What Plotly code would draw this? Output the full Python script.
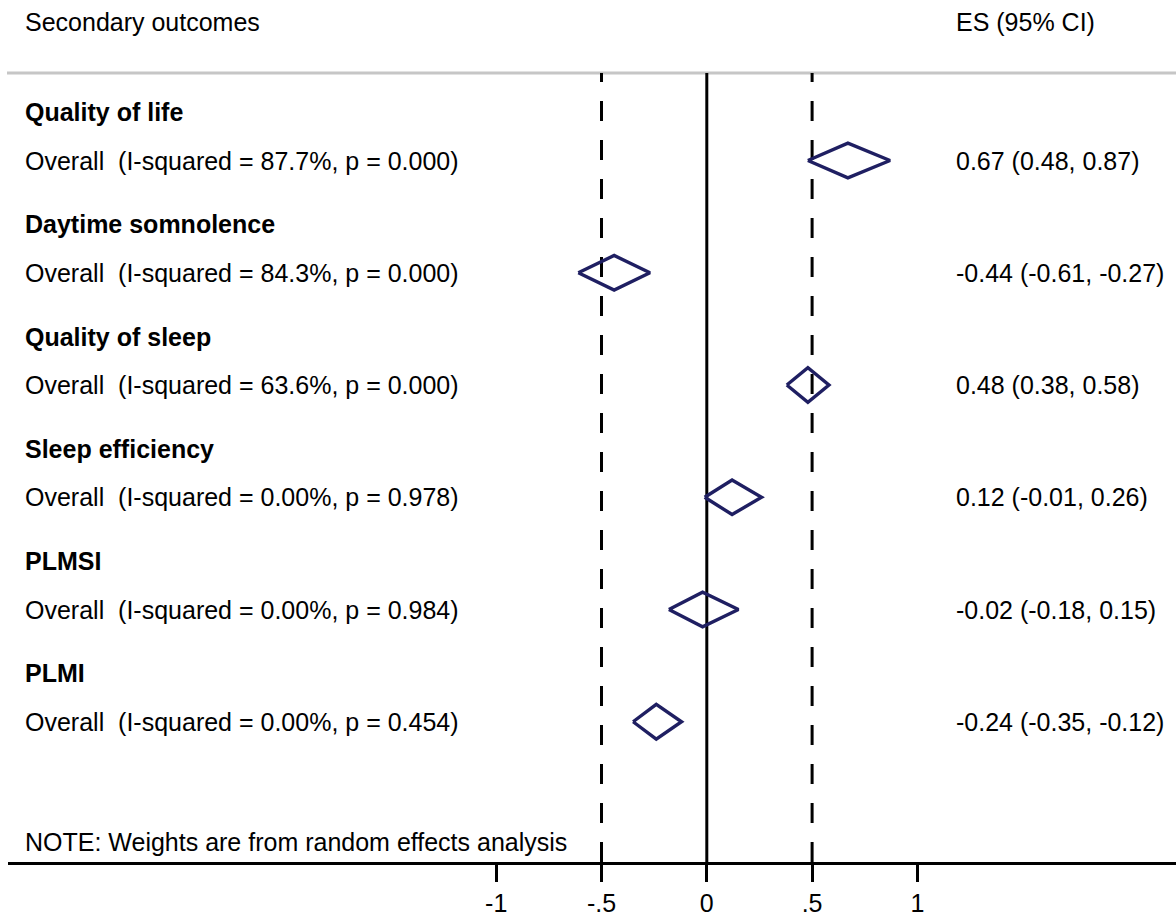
import plotly.graph_objects as go

# ---- data ----
outcomes = ["Quality of life", "Daytime somnolence", "Quality of sleep",
            "Sleep efficiency", "PLMSI", "PLMI"]
i_squared = ["87.7%", "84.3%", "63.6%", "0.00%", "0.00%", "0.00%"]
p_values = ["0.000", "0.000", "0.000", "0.978", "0.984", "0.454"]
es = [0.67, -0.44, 0.48, 0.12, -0.02, -0.24]
ci_lo = [0.48, -0.61, 0.38, -0.01, -0.18, -0.35]
ci_hi = [0.87, -0.27, 0.58, 0.26, 0.15, -0.12]
tick_vals = [-1, -0.5, 0, 0.5, 1]
tick_text = ["-1", "-.5", "0", ".5", "1"]
ref_lines = [-0.5, 0.5]

# ---- layout geometry (pixels) ----
W, H = 1176, 919
PX0, PXU = 706.8, 210.6          # pixel of x=0, pixels per unit
AX_L = 8                          # axis line left end
AX_Y = 862                        # axis line y pixel
ROW0, ROWH = 160.5, 112.25        # first overall row pixel, group spacing
HDR_OFF = 48.5 / ROWH             # header above overall row
DIA_H = 17.3 / ROWH               # diamond half height
TOP_LINE = 73

def y_of(px):
    return 1 + (px - ROW0) / ROWH

x_range = [(AX_L - PX0) / PXU, (W - PX0) / PXU]
y_range = [y_of(AX_Y), y_of(0)]

FONT = "Liberation Sans, Arial, Helvetica, sans-serif"
NAVY = "#1f1f62"
FS = 25

fig = go.Figure()

# diamonds
for i in range(len(es)):
    yr = i + 1
    fig.add_trace(go.Scatter(
        x=[ci_lo[i], es[i], ci_hi[i], es[i], ci_lo[i]],
        y=[yr, yr - DIA_H, yr, yr + DIA_H, yr],
        mode="lines", line=dict(color=NAVY, width=3.4),
        hoverinfo="skip", showlegend=False))

shapes = []
# zero line
shapes.append(dict(type="line", xref="x", yref="y", x0=0, x1=0,
                   y0=y_of(AX_Y), y1=y_of(TOP_LINE),
                   line=dict(color="black", width=3), layer="below"))
for v in ref_lines:
    shapes.append(dict(type="line", xref="x", yref="y", x0=v, x1=v,
                       y0=y_of(AX_Y), y1=y_of(TOP_LINE),
                       line=dict(color="black", width=3, dash="20px,19px"),
                       layer="below"))
# top grey separator
shapes.append(dict(type="line", xref="paper", yref="y", x0=7 / W, x1=1,
                   y0=y_of(TOP_LINE), y1=y_of(TOP_LINE),
                   line=dict(color="#c6c6c6", width=3), layer="below"))

ann = []
LX = 23 / W
RX = 954 / W
ann.append(dict(x=LX, y=y_of(22), xref="paper", yref="y", text="Secondary outcomes",
                xanchor="left", yanchor="middle", showarrow=False,
                font=dict(family=FONT, size=FS, color="black")))
ann.append(dict(x=RX, y=y_of(22), xref="paper", yref="y", text="ES (95% CI)",
                xanchor="left", yanchor="middle", showarrow=False,
                font=dict(family=FONT, size=FS, color="black")))
for i, name in enumerate(outcomes):
    yr = i + 1
    ann.append(dict(x=LX, y=yr - HDR_OFF, xref="paper", yref="y",
                    text="<b>%s</b>" % name, xanchor="left", yanchor="middle",
                    showarrow=False, font=dict(family=FONT, size=FS, color="black")))
    ann.append(dict(x=LX, y=yr, xref="paper", yref="y",
                    text="Overall  (I-squared = %s, p = %s)" % (i_squared[i], p_values[i]),
                    xanchor="left", yanchor="middle", showarrow=False,
                    font=dict(family=FONT, size=FS, color="black")))
    ann.append(dict(x=RX, y=yr, xref="paper", yref="y",
                    text="%.2f (%.2f, %.2f)" % (es[i], ci_lo[i], ci_hi[i]),
                    xanchor="left", yanchor="middle", showarrow=False,
                    font=dict(family=FONT, size=FS, color="black")))
ann.append(dict(x=LX, y=y_of(841.5), xref="paper", yref="y",
                text="NOTE: Weights are from random effects analysis",
                xanchor="left", yanchor="middle", showarrow=False,
                font=dict(family=FONT, size=FS, color="black")))

fig.update_layout(
    width=W, height=H,
    margin=dict(l=0, r=0, t=0, b=H - AX_Y),
    paper_bgcolor="white", plot_bgcolor="white",
    shapes=shapes, annotations=ann,
    xaxis=dict(domain=[AX_L / W, 1], range=x_range, showgrid=False, zeroline=False,
               showline=True, linecolor="black", linewidth=3,
               ticks="outside", ticklen=17, tickwidth=3, tickcolor="black",
               tickvals=tick_vals, ticktext=tick_text,
               tickfont=dict(family=FONT, size=FS, color="black")),
    yaxis=dict(range=y_range, visible=False, showgrid=False, zeroline=False),
    showlegend=False,
)

fig.write_html("out.html")
